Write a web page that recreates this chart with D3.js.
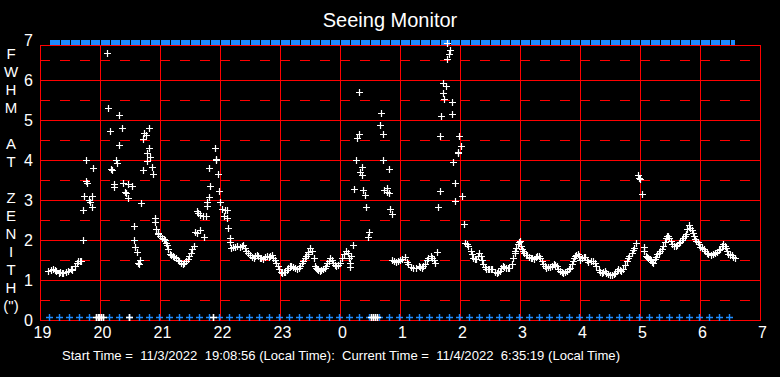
<!DOCTYPE html>
<html>
<head>
<meta charset="utf-8">
<script src="https://cdn.jsdelivr.net/npm/d3@7"></script>
<style>
  html, body { margin: 0; padding: 0; background: #000; }
  svg { display: block; font-family: "Liberation Sans", Arial, sans-serif; }
</style>
</head>
<body>
<div id="chart"></div>
<script>
// hours run on past midnight (24 = 0:00, 30 = 6:00)
const START_HOUR = 19 + 8 / 60 + 56 / 3600;
const CURRENT_HOUR = 30 + 35 / 60 + 19 / 3600;

const xTicks = [19, 20, 21, 22, 23, 24, 25, 26, 27, 28, 29, 30, 31];
const yTicks = [0, 1, 2, 3, 4, 5, 6, 7];
const yLabelChars = ["F", "W", "H", "M", "", "A", "T", "", "Z", "E", "N", "I", "T", "H", "(\")"];

// seeing samples [hour, fwhm]
const seeing = [
  [19.14,1.23],[19.18,1.25],[19.22,1.28],[19.25,1.24],[19.27,1.22],[19.31,1.18],[19.34,1.2],[19.37,1.18],[19.39,1.17],[19.43,1.2],
  [19.47,1.23],[19.51,1.27],[19.54,1.25],[19.58,1.35],[19.61,1.42],[19.63,1.48],[19.67,1.48],[19.69,1.47],
  [19.71,1.99],[19.72,2.74],[19.74,3.09],[19.76,3.48],[19.77,3.99],[19.79,3.42],[19.82,2.99],[19.83,2.95],[19.86,3.09],[19.87,2.82],[19.89,3.79],
  [20.12,6.67],[20.14,5.29],[20.16,4.72],[20.19,3.77],[20.2,3.75],[20.23,3.39],[20.24,3.32],[20.27,3.99],[20.28,3.93],[20.31,4.37],
  [20.32,5.12],[20.36,4.79],[20.38,3.43],[20.42,3.21],[20.43,3.18],[20.46,3.04],[20.47,3.39],[20.54,3.34],[20.56,2.34],[20.57,1.99],
  [20.59,1.82],[20.61,1.69],[20.64,1.43],[20.65,1.4],[20.66,1.49],[20.69,2.92],
  [20.71,3.74],[20.72,4.52],[20.74,4.68],[20.76,4.62],[20.78,4.18],[20.79,3.97],[20.81,4.79],[20.82,4.29],[20.84,4.08],[20.87,3.82],[20.89,3.64],
  [20.91,2.55],[20.92,2.45],[20.94,2.27],[20.96,2.18],[20.97,2.14],[21.0,2.1],[21.03,2.06],[21.06,2.02],[21.08,1.99],[21.1,1.93],
  [21.12,1.87],[21.14,1.77],[21.16,1.64],[21.19,1.62],[21.21,1.6],[21.24,1.58],[21.27,1.56],[21.3,1.5],[21.32,1.48],[21.35,1.43],
  [21.38,1.39],[21.4,1.42],[21.43,1.48],[21.46,1.53],[21.49,1.6],[21.52,1.68],[21.54,1.77],[21.57,1.85],
  [21.59,2.2],[21.61,2.18],[21.61,2.73],[21.63,2.68],[21.66,2.62],[21.67,2.24],[21.72,2.6],[21.73,2.07],[21.76,2.6],
  [21.78,2.95],[21.79,2.85],[21.81,3.07],[21.82,3.79],[21.84,3.34],[21.91,4.29],[21.93,3.99],[21.94,4.02],[21.97,3.64],[21.98,3.22],
  [22.0,2.95],[22.03,2.78],[22.06,2.6],[22.08,2.76],[22.11,2.75],[22.12,2.56],[22.14,2.31],[22.16,2.04],[22.17,1.95],[22.19,1.81],
  [22.22,1.82],[22.25,1.83],[22.29,1.85],[22.33,1.83],[22.36,1.86],[22.39,1.87],[22.42,1.8],[22.44,1.73],[22.47,1.68],[22.5,1.62],
  [22.53,1.58],[22.56,1.56],[22.58,1.6],[22.61,1.62],[22.64,1.6],[22.67,1.56],[22.69,1.54],[22.72,1.53],[22.75,1.57],[22.78,1.6],
  [22.81,1.58],[22.83,1.6],[22.86,1.62],[22.89,1.56],[22.92,1.5],[22.94,1.43],[22.97,1.35],[22.99,1.27],[23.01,1.2],[23.03,1.17],
  [23.06,1.2],[23.08,1.2],[23.11,1.26],[23.14,1.31],[23.17,1.34],[23.19,1.35],[23.22,1.33],[23.25,1.31],[23.29,1.27],[23.31,1.3],
  [23.33,1.35],[23.36,1.42],[23.39,1.48],[23.41,1.54],[23.43,1.6],[23.46,1.65],[23.47,1.7],[23.5,1.81],[23.53,1.73],[23.56,1.56],
  [23.58,1.35],[23.6,1.3],[23.62,1.27],[23.64,1.24],[23.67,1.23],[23.69,1.25],[23.72,1.27],[23.75,1.31],[23.77,1.35],[23.79,1.42],
  [23.81,1.48],[23.83,1.55],[23.86,1.49],[23.89,1.43],[23.92,1.38],[23.94,1.35],[23.97,1.38],[24.0,1.43],[24.03,1.56],[24.06,1.65],
  [24.1,1.73],[24.14,1.68],[24.15,1.56],[24.17,1.43],[24.17,1.33],[24.18,1.6],[24.21,1.87],
  [24.24,3.27],[24.27,3.99],[24.29,4.54],[24.31,5.69],[24.32,4.64],[24.34,3.69],[24.36,3.63],[24.37,3.83],[24.39,3.24],[24.41,3.12],
  [24.44,2.83],[24.47,2.08],[24.49,2.2],[24.67,4.87],[24.69,5.17],[24.71,4.64],[24.72,3.99],[24.74,3.25],[24.78,3.31],[24.79,3.2],
  [24.81,3.18],[24.82,3.77],[24.84,2.77],[24.86,2.64],
  [24.86,1.5],[24.9,1.48],[24.94,1.45],[24.97,1.48],[25.0,1.5],[25.03,1.53],[25.08,1.58],[25.11,1.45],[25.14,1.39],[25.18,1.33],
  [25.22,1.29],[25.26,1.3],[25.31,1.35],[25.34,1.33],[25.36,1.31],[25.39,1.35],[25.42,1.39],[25.45,1.5],[25.47,1.56],[25.51,1.6],
  [25.53,1.55],[25.56,1.5],[25.58,1.42],[25.62,1.7],
  [25.64,2.82],[25.66,3.22],[25.67,4.59],[25.69,5.09],[25.71,5.93],[25.72,5.67],[25.74,5.52],[25.76,5.84],[25.78,6.92],[25.79,6.52],
  [25.82,6.64],[25.83,6.75],[25.86,5.44],[25.87,5.14],[25.89,3.94],[25.91,3.42],[25.92,2.97],[25.96,4.17],[25.97,4.2],[25.99,4.59],
  [26.02,4.34],[26.04,3.09],[26.06,2.39],
  [26.08,1.92],[26.11,1.9],[26.14,1.85],[26.18,1.73],[26.2,1.65],[26.22,1.56],[26.25,1.52],[26.27,1.52],[26.3,1.6],[26.32,1.68],
  [26.35,1.6],[26.37,1.5],[26.39,1.41],[26.41,1.33],[26.43,1.27],[26.46,1.27],[26.49,1.28],[26.52,1.27],[26.54,1.27],[26.58,1.2],
  [26.61,1.17],[26.63,1.2],[26.66,1.23],[26.69,1.3],[26.71,1.35],[26.74,1.33],[26.77,1.31],[26.8,1.3],[26.82,1.31],[26.86,1.39],
  [26.89,1.56],[26.91,1.68],[26.92,1.72],[26.94,1.8],[26.96,1.89],[26.98,1.95],[27.0,1.98],[27.02,1.85],[27.03,1.78],[27.05,1.72],
  [27.07,1.67],[27.1,1.63],[27.12,1.62],[27.15,1.58],[27.18,1.56],[27.2,1.55],[27.23,1.53],[27.26,1.58],[27.29,1.6],[27.31,1.6],
  [27.33,1.56],[27.36,1.48],[27.39,1.39],[27.42,1.35],[27.44,1.31],[27.47,1.32],[27.5,1.33],[27.53,1.36],[27.56,1.39],[27.59,1.37],
  [27.61,1.35],[27.64,1.28],[27.67,1.23],[27.7,1.19],[27.72,1.18],[27.75,1.2],[27.78,1.23],[27.81,1.28],[27.83,1.31],[27.86,1.4],
  [27.88,1.48],[27.9,1.55],[27.92,1.6],[27.94,1.62],[27.96,1.64],[27.98,1.6],[28.0,1.5],
  [28.03,1.54],[28.06,1.58],[28.08,1.58],[28.11,1.5],[28.14,1.45],[28.18,1.47],[28.22,1.48],[28.25,1.42],[28.27,1.35],[28.31,1.25],
  [28.33,1.21],[28.36,1.18],[28.39,1.2],[28.42,1.23],[28.44,1.18],[28.47,1.14],[28.5,1.13],[28.53,1.12],[28.56,1.14],[28.58,1.17],
  [28.61,1.22],[28.64,1.27],[28.67,1.24],[28.69,1.23],[28.72,1.28],[28.75,1.37],[28.78,1.48],[28.8,1.55],[28.82,1.6],[28.86,1.68],
  [28.88,1.75],[28.9,1.81],[28.93,1.92],
  [28.97,3.62],[28.98,3.56],[29.0,3.52],[29.04,3.14],[29.06,1.83],[29.07,1.72],
  [29.1,1.6],[29.12,1.58],[29.14,1.56],[29.16,1.53],[29.18,1.5],[29.2,1.46],[29.22,1.43],[29.25,1.53],[29.27,1.58],[29.29,1.64],
  [29.31,1.68],[29.33,1.72],[29.36,1.78],[29.39,1.85],[29.41,1.95],[29.43,2.06],[29.45,2.09],[29.47,2.1],[29.49,2.04],[29.51,1.98],
  [29.54,1.9],[29.57,1.85],[29.6,1.86],[29.62,1.87],[29.65,1.92],[29.67,1.95],[29.7,2.0],[29.72,2.06],[29.75,2.1],[29.77,2.14],
  [29.79,2.27],[29.81,2.37],[29.83,2.31],[29.86,2.24],[29.88,2.18],[29.9,2.1],[29.92,2.02],[29.94,1.98],[29.96,1.95],[29.98,1.9],
  [30.0,1.83],[30.03,1.8],[30.06,1.78],[30.09,1.72],[30.11,1.68],[30.14,1.65],[30.18,1.62],[30.22,1.64],[30.25,1.67],[30.28,1.7],
  [30.31,1.74],[30.33,1.77],[30.36,1.84],[30.39,1.89],[30.41,1.86],[30.43,1.81],[30.45,1.72],[30.47,1.64],[30.5,1.63],[30.53,1.62],
  [30.55,1.58],[30.58,1.56]
];

// failed measurements, logged as 0
const zeroReadings = [19.93, 19.96, 19.99, 20.02, 20.05, 20.49, 21.88, 24.52, 24.55, 24.58, 24.61];

// status samples every 10 minutes across the session
const statusTimes = d3.range(19 + 10 / 60, CURRENT_HOUR, 10 / 60);

const W = 780, H = 377;
const margin = { top: 45, right: 20, bottom: 57, left: 40 };

const x = d3.scaleLinear().domain([19, 31]).range([40, 760]);
const y = d3.scaleLinear().domain([0, 7]).range([320, 40]);

const svg = d3.select("#chart").append("svg")
  .attr("width", W).attr("height", H)
  .style("background", "#000");

const RED = "#ff0000", BLUE = "#1e8cff";

// grid
const grid = svg.append("g").attr("shape-rendering", "crispEdges");
grid.selectAll(".hline").data(d3.range(1, 7)).join("line")
  .attr("x1", x(19)).attr("x2", x(31))
  .attr("y1", d => y(d) + 0.5).attr("y2", d => y(d) + 0.5)
  .attr("stroke", RED).attr("stroke-width", 1);
grid.selectAll(".dline").data(d3.range(0.5, 7, 1)).join("line")
  .attr("x1", x(19)).attr("x2", x(31))
  .attr("y1", d => y(d) + 0.5).attr("y2", d => y(d) + 0.5)
  .attr("stroke", RED).attr("stroke-width", 1)
  .attr("stroke-dasharray", "10,10");
grid.selectAll(".vline").data(d3.range(20, 31)).join("line")
  .attr("x1", d => x(d) + 0.5).attr("x2", d => x(d) + 0.5)
  .attr("y1", margin.top).attr("y2", y(0))
  .attr("stroke", RED).attr("stroke-width", 1);
grid.append("rect")
  .attr("x", x(19) + 0.5).attr("y", margin.top + 0.5)
  .attr("width", x(31) - x(19)).attr("height", y(0) - margin.top)
  .attr("fill", "none").attr("stroke", RED).attr("stroke-width", 1);

// top status band
const edges = [START_HOUR, ...statusTimes, CURRENT_HOUR];
svg.append("g").attr("shape-rendering", "crispEdges")
  .selectAll("rect").data(d3.pairs(edges)).join("rect")
  .attr("x", d => Math.round(x(d[0])) + 1)
  .attr("width", d => Math.max(1, Math.round(x(d[1])) - Math.round(x(d[0])) - 1))
  .attr("y", y(7))
  .attr("height", margin.top - y(7))
  .attr("fill", BLUE);

const plus = s => `M${-s},0H${s}M0,${-s}V${s}`;

// bottom status markers
svg.append("g").selectAll("path").data(statusTimes).join("path")
  .attr("d", plus(3.5))
  .attr("transform", d => `translate(${Math.round(x(d)) - 0.5},${y(0) - 2.5})`)
  .attr("stroke", BLUE).attr("stroke-width", 1.4).attr("fill", "none");

// zero readings
svg.append("g").selectAll("path").data(zeroReadings).join("path")
  .attr("d", plus(3.5))
  .attr("transform", d => `translate(${Math.round(x(d)) + 0.5},${y(0) - 2.5})`)
  .attr("stroke", "#fff").attr("stroke-width", 1.6).attr("fill", "none");

// seeing values
svg.append("g").selectAll("path").data(seeing).join("path")
  .attr("d", plus(3.5))
  .attr("transform", d => `translate(${Math.round(x(d[0])) + 0.5},${Math.round(y(d[1])) + 0.5})`)
  .attr("stroke", "#fff").attr("stroke-width", 1.2).attr("fill", "none");

// axes
const xAxis = svg.append("g")
  .attr("transform", `translate(2,${y(0) + 4})`)
  .call(d3.axisBottom(x).tickValues(xTicks).tickSize(0).tickFormat(d => d % 24));
const yAxis = svg.append("g")
  .attr("transform", `translate(${x(19) - 4},0)`)
  .call(d3.axisLeft(y).tickValues(yTicks).tickSize(0).tickFormat(d3.format("d")));
[xAxis, yAxis].forEach(a => {
  a.select(".domain").remove();
  a.selectAll("text")
    .attr("fill", "#fff")
    .style("font-family", "Liberation Sans, Arial, sans-serif")
    .style("font-size", "16px");
});

svg.append("text")
  .attr("x", 390).attr("y", 27)
  .attr("text-anchor", "middle")
  .attr("fill", "#fff")
  .style("font-size", "20px")
  .text("Seeing Monitor");

svg.append("g").selectAll("text").data(yLabelChars).join("text")
  .attr("x", 11).attr("y", (d, i) => 53 + i * 18)
  .attr("text-anchor", "middle").attr("dominant-baseline", "central")
  .attr("fill", "#fff")
  .style("font-size", "15px")
  .text(d => d);

svg.append("text")
  .attr("x", 62).attr("y", 360)
  .attr("fill", "#fff")
  .style("font-size", "13px")
  .attr("textLength", 558).attr("lengthAdjust", "spacingAndGlyphs")
  .attr("xml:space", "preserve")
  .text("Start Time =  11/3/2022  19:08:56 (Local Time):  Current Time =  11/4/2022  6:35:19 (Local Time)");
</script>
</body>
</html>
